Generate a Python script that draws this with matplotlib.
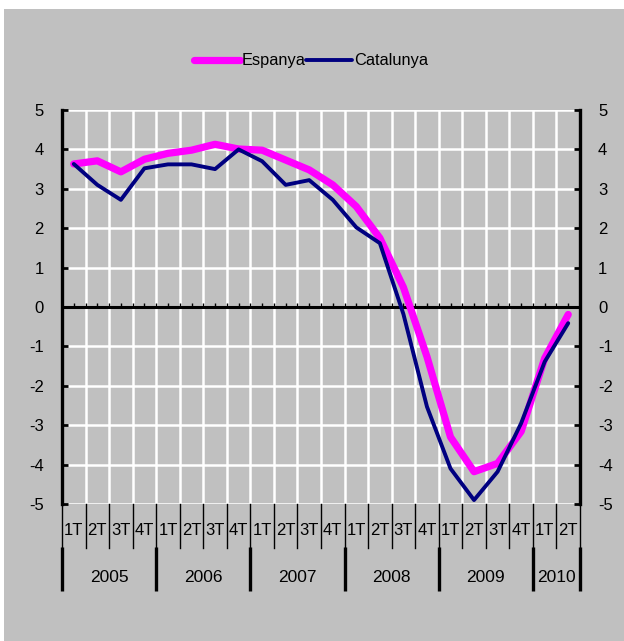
import matplotlib
matplotlib.use("Agg")
import matplotlib.pyplot as plt
import matplotlib.patches as mpatches
import matplotlib.transforms as mtransforms
import numpy as np

plt.rcParams['font.family'] = ['Liberation Sans', 'DejaVu Sans']
plt.rcParams['axes.unicode_minus'] = False

quarters = ["1T", "2T", "3T", "4T"] * 5 + ["1T", "2T"]
years = ["2005", "2006", "2007", "2008", "2009", "2010"]
quarters_per_year = [4, 4, 4, 4, 4, 2]
espanya = [3.63, 3.71, 3.43, 3.75, 3.90, 3.98, 4.13, 4.01, 3.98, 3.73, 3.48, 3.10,
           2.55, 1.75, 0.50, -1.26, -3.30, -4.18, -3.97, -3.16, -1.30, -0.19]
catalunya = [3.63, 3.10, 2.72, 3.52, 3.62, 3.62, 3.50, 4.00, 3.70, 3.10, 3.22, 2.72,
             2.02, 1.62, -0.18, -2.53, -4.10, -4.90, -4.18, -2.95, -1.39, -0.41]

W, H = 624, 641
fig = plt.figure(figsize=(W / 100, H / 100), dpi=100, facecolor='white')
grey = '#C0C0C0'
fig.patches.append(mpatches.Rectangle((4 / W, 0), 1 - 4 / W, (H - 9) / H,
                                      transform=fig.transFigure, facecolor=grey,
                                      edgecolor='none', zorder=-10))

left, right, top, bottom = 62, 580, 110, 504
ax = fig.add_axes([left / W, (H - bottom) / H, (right - left) / W, (bottom - top) / H])
ax.set_facecolor(grey)

n = len(quarters)
x = np.arange(n)
ax.set_xlim(-0.5, n - 0.5)
ax.set_ylim(-5, 5)

# grid
for yv in range(-5, 6):
    ax.axhline(yv, color='white', lw=1.8, zorder=1)
for b in np.arange(0.5, n - 0.5, 1):
    ax.axvline(b, color='white', lw=1.8, zorder=1)

# zero axis with ticks
ax.axhline(0, color='black', lw=2.2, zorder=2)
tick_pos = np.arange(0, n - 0.4, 0.5)
ax.vlines(tick_pos, 0, 0.11, color='black', lw=1.0, zorder=2)

ax.plot(x, espanya, color='#FF00FF', lw=5.2, solid_capstyle='round',
        solid_joinstyle='round', label='Espanya', zorder=3)
ax.plot(x, catalunya, color='#000080', lw=2.8, solid_capstyle='round',
        solid_joinstyle='round', label='Catalunya', zorder=4)

for s in ['top', 'bottom']:
    ax.spines[s].set_visible(False)
for s in ['left', 'right']:
    ax.spines[s].set_color('black')
    ax.spines[s].set_linewidth(2.4)

ax.set_yticks(range(-5, 6))
ax.tick_params(axis='y', direction='in', length=4, width=2, labelsize=12,
               left=True, right=True, labelleft=True, labelright=True, pad=13)
ax.set_xticks([])

# category axis below
trans = mtransforms.blended_transform_factory(ax.transData, ax.transAxes)
for b in np.arange(-0.5, n, 1):
    ax.plot([b, b], [0, -0.112], color='black', lw=1.0, transform=trans, clip_on=False)
for i, q in enumerate(quarters):
    ax.text(i, -0.068, q, transform=trans, ha='center', va='center', fontsize=12)
start = -0.5
bounds = [start]
for qn in quarters_per_year:
    start += qn
    bounds.append(start)
for b in bounds:
    ax.plot([b, b], [-0.108, -0.221], color='black', lw=2.4, transform=trans,
            clip_on=False, solid_capstyle='butt')
for yr, a, b in zip(years, bounds[:-1], bounds[1:]):
    ax.text((a + b) / 2, -0.186, yr, transform=trans, ha='center', va='center',
            fontsize=12.5)

fig.legend(loc='center', bbox_to_anchor=(311 / W, (H - 61) / H), ncol=2,
           frameon=False, fontsize=11.8, handlelength=2.8, handletextpad=0.15,
           columnspacing=0.0, borderpad=0)

fig.savefig('out.png', dpi=100, facecolor='white')
